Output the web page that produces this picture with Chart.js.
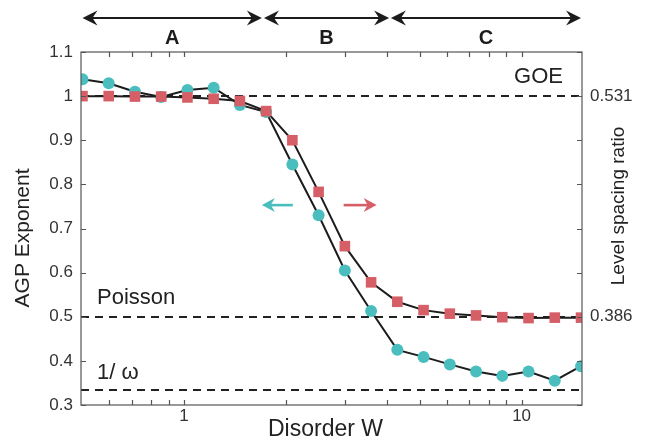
<!DOCTYPE html>
<html>
<head>
<meta charset="utf-8">
<script src="https://cdn.jsdelivr.net/npm/chart.js@4.4.1/dist/chart.umd.min.js"></script>
<style>
  html, body { margin: 0; padding: 0; background: #fff; }
  #wrap { width: 645px; height: 441px; }
</style>
</head>
<body>
<div id="wrap"><canvas id="c" width="645" height="441"></canvas></div>
<script>
// ---- data ----
const disorderW = [0.5, 0.598, 0.7153, 0.8554, 1.0231, 1.2236, 1.4635, 1.7504, 2.0935, 2.5039,
                   2.9947, 3.5818, 4.2839, 5.1237, 6.1281, 7.3294, 8.7662, 10.485, 12.54, 15.0];
const agpExponent = [1.038, 1.029, 1.010, 0.998, 1.014, 1.019, 0.980, 0.964, 0.845, 0.730,
                     0.605, 0.513, 0.425, 0.409, 0.392, 0.376, 0.366, 0.376, 0.355, 0.388];
// level spacing ratio, shown normalised (GOE -> 1, Poisson -> 0.5)
const levelSpacing = [1.000, 1.000, 0.999, 0.999, 0.997, 0.994, 0.989, 0.966, 0.900, 0.783,
                      0.660, 0.578, 0.534, 0.515, 0.507, 0.503, 0.499, 0.497, 0.498, 0.498];
const yTickValues = [0.3, 0.4, 0.5, 0.6, 0.7, 0.8, 0.9, 1.0, 1.1];
const xTickLabels = [1, 10];
const xMinorTicks = [0.6, 0.7, 0.8, 0.9, 1, 2, 3, 4, 5, 6, 7, 8, 9, 10];
const rightLabels = [{ at: 1.0, text: '0.531' }, { at: 0.5, text: '0.386' }];
const refLines = [
  { y: 1.0, label: 'GOE' },
  { y: 0.5, label: 'Poisson' },
  { y: 1 / 3, label: '1/ ω' }
];
const regions = [
  { label: 'A', from: 0.5, to: 1.70 },
  { label: 'B', from: 1.725, to: 4.05 },
  { label: 'C', from: 4.1, to: 15.0 }
];
const cyanArrow = { from: 2.10, to: 1.70, y: 0.753 };
const redArrow = { from: 2.97, to: 3.72, y: 0.753 };

const CYAN = '#4abebe';
const RED = '#d65f67';
const INK = '#1c1c1c';
const AXIS = '#555';
const FONT = '"Liberation Sans", Arial, Helvetica, sans-serif';

function arrowHead(ctx, x, y, dir, len, half, notch) {
  ctx.beginPath();
  ctx.moveTo(x, y);
  ctx.lineTo(x - dir * len, y - half);
  ctx.lineTo(x - dir * notch, y);
  ctx.lineTo(x - dir * len, y + half);
  ctx.closePath();
  ctx.fill();
}

const decor = {
  id: 'decor',
  beforeDatasetsDraw(chart) {
    const { ctx, chartArea: a, scales } = chart;
    const ys = scales.y;
    ctx.save();
    ctx.strokeStyle = '#222';
    ctx.lineWidth = 2;
    ctx.setLineDash([8, 6]);
    refLines.forEach(r => {
      const py = Math.round(ys.getPixelForValue(r.y));
      ctx.beginPath();
      ctx.moveTo(a.left, py);
      ctx.lineTo(a.right, py);
      ctx.stroke();
    });
    ctx.restore();
  },
  afterDraw(chart) {
    const { ctx, chartArea: a, scales } = chart;
    const xs = scales.x, ys = scales.y;
    ctx.save();
    // frame
    ctx.strokeStyle = AXIS;
    ctx.lineWidth = 1.2;
    ctx.strokeRect(a.left, a.top, a.right - a.left, a.bottom - a.top);
    // inward ticks
    const tl = 5;
    ctx.beginPath();
    xMinorTicks.forEach(v => {
      const px = Math.round(xs.getPixelForValue(v)) + 0.5;
      ctx.moveTo(px, a.bottom); ctx.lineTo(px, a.bottom - tl);
      ctx.moveTo(px, a.top); ctx.lineTo(px, a.top + tl);
    });
    yTickValues.forEach(v => {
      const py = Math.round(ys.getPixelForValue(v)) + 0.5;
      ctx.moveTo(a.left, py); ctx.lineTo(a.left + tl, py);
      ctx.moveTo(a.right, py); ctx.lineTo(a.right - tl, py);
    });
    ctx.stroke();

    // reference line labels
    ctx.fillStyle = '#222';
    ctx.font = '22px ' + FONT;
    ctx.textBaseline = 'middle';
    ctx.textAlign = 'right';
    ctx.fillText(refLines[0].label, a.right - 19, ys.getPixelForValue(refLines[0].y) - 19);
    ctx.textAlign = 'left';
    ctx.fillText(refLines[1].label, a.left + 16, ys.getPixelForValue(refLines[1].y) - 19);
    ctx.fillText(refLines[2].label, a.left + 16, ys.getPixelForValue(refLines[2].y) - 17);

    // coloured direction arrows
    [[cyanArrow, CYAN], [redArrow, RED]].forEach(([ar, col]) => {
      const x1 = xs.getPixelForValue(ar.from), x2 = xs.getPixelForValue(ar.to);
      const py = ys.getPixelForValue(ar.y);
      const dir = Math.sign(x2 - x1);
      ctx.strokeStyle = col; ctx.fillStyle = col; ctx.lineWidth = 2.6;
      ctx.beginPath(); ctx.moveTo(x1, py); ctx.lineTo(x2 - dir * 7, py); ctx.stroke();
      arrowHead(ctx, x2, py, dir, 13, 7, 9);
    });

    // region arrows on top
    const ay = 18;
    ctx.strokeStyle = INK; ctx.fillStyle = INK; ctx.lineWidth = 2.2;
    regions.forEach(r => {
      const x1 = xs.getPixelForValue(r.from), x2 = xs.getPixelForValue(r.to);
      ctx.beginPath(); ctx.moveTo(x1 + 6, ay); ctx.lineTo(x2 - 6, ay); ctx.stroke();
      arrowHead(ctx, x1, ay, -1, 15, 7.5, 10);
      arrowHead(ctx, x2, ay, 1, 15, 7.5, 10);
      ctx.font = 'bold 20px ' + FONT;
      ctx.textAlign = 'center';
      ctx.textBaseline = 'middle';
      ctx.fillText(r.label, (x1 + x2) / 2, 38);
    });

    // axis titles
    ctx.fillStyle = '#222';
    ctx.font = '21px ' + FONT;
    ctx.textAlign = 'center';
    ctx.textBaseline = 'middle';
    ctx.save();
    ctx.translate(23, 238);
    ctx.rotate(-Math.PI / 2);
    ctx.fillText('AGP Exponent', 0, 0);
    ctx.restore();
    ctx.save();
    ctx.font = '19px ' + FONT;
    ctx.translate(619, 206);
    ctx.rotate(-Math.PI / 2);
    ctx.fillText('Level spacing ratio', 0, 0);
    ctx.restore();
    ctx.font = '23px ' + FONT;
    ctx.fillText('Disorder W', (a.left + a.right) / 2 - 6, 430);
    ctx.restore();
  }
};

new Chart(document.getElementById('c'), {
  type: 'line',
  data: {
    datasets: [
      {
        label: 'AGP Exponent',
        data: disorderW.map((w, i) => ({ x: w, y: agpExponent[i] })),
        borderColor: INK, borderWidth: 2,
        pointStyle: 'circle', pointRadius: 6,
        pointBackgroundColor: CYAN, pointBorderColor: CYAN, pointBorderWidth: 0,
        yAxisID: 'y', order: 2, tension: 0
      },
      {
        label: 'Level spacing ratio',
        data: disorderW.map((w, i) => ({ x: w, y: levelSpacing[i] })),
        borderColor: INK, borderWidth: 2,
        pointStyle: 'rect', pointRadius: 7.5,
        pointBackgroundColor: RED, pointBorderColor: RED, pointBorderWidth: 0,
        yAxisID: 'y', order: 1, tension: 0
      }
    ]
  },
  options: {
    responsive: false,
    animation: false,
    devicePixelRatio: 1,
    layout: { padding: { top: 52, left: 0, right: 0, bottom: 0 } },
    plugins: { legend: { display: false }, tooltip: { enabled: false } },
    scales: {
      x: {
        type: 'logarithmic', min: 0.495, max: 15.1,
        afterBuildTicks: s => { s.ticks = xTickLabels.map(v => ({ value: v })); },
        afterFit: s => { s.height = 36; },
        grid: { display: false, drawTicks: false },
        border: { display: false },
        ticks: { autoSkip: false, maxRotation: 0, padding: 1, color: '#333',
                 font: { family: FONT, size: 17 }, callback: v => String(v) }
      },
      y: {
        position: 'left', min: 0.3, max: 1.1,
        afterBuildTicks: s => { s.ticks = yTickValues.map(v => ({ value: v })); },
        afterFit: s => { s.width = 81; },
        grid: { display: false, drawTicks: false },
        border: { display: false },
        ticks: { padding: 8, color: '#333', font: { family: FONT, size: 17 },
                 callback: v => String(Number(v.toFixed(1))) }
      },
      y2: {
        position: 'right', min: 0.3, max: 1.1,
        afterBuildTicks: s => { s.ticks = rightLabels.map(r => ({ value: r.at })); },
        afterFit: s => { s.width = 63; },
        grid: { display: false, drawTicks: false },
        border: { display: false },
        ticks: { padding: 8, color: '#333', font: { family: FONT, size: 17 },
                 callback: v => { const r = rightLabels.find(r => Math.abs(r.at - v) < 1e-6); return r ? r.text : ''; } }
      }
    }
  },
  plugins: [decor]
});
</script>
</body>
</html>
